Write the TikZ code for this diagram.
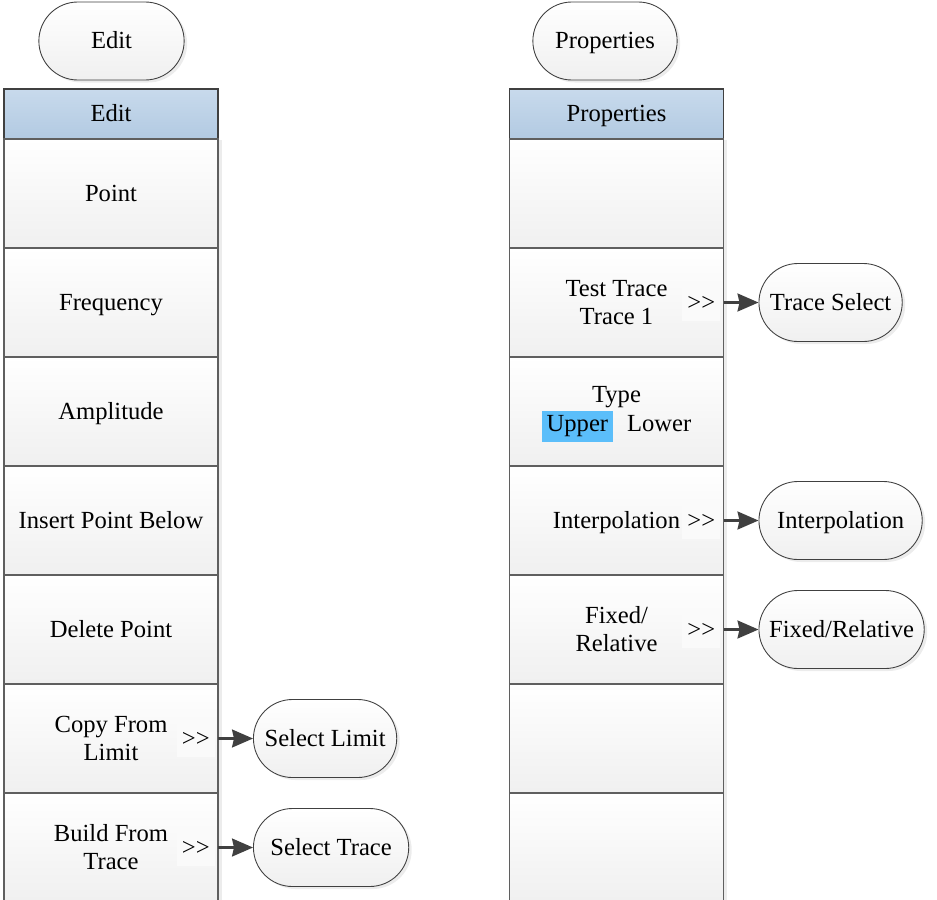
\documentclass[tikz,border=0pt]{standalone}
\usepackage{fontspec}
\setmainfont{Liberation Serif}
\usetikzlibrary{shapes,arrows.meta,positioning,shadows}
\definecolor{headtop}{RGB}{200,218,236}
\definecolor{headbot}{RGB}{178,202,226}
\definecolor{cellline}{RGB}{95,95,95}
\definecolor{darkline}{RGB}{64,64,64}
\definecolor{upperblue}{RGB}{91,190,250}
\setlength{\fboxsep}{2.8pt}
\newcommand{\cellstrut}{\rule[-3.2pt]{0pt}{15.5pt}}

\begin{document}
\begin{tikzpicture}[
    menuhead/.style={draw=darkline, line width=1.1pt, rectangle, outer sep=0pt, minimum width=4.28cm, minimum height=1cm, align=center, top color=headtop, bottom color=headbot, font=\fontsize{14}{16.4}\selectfont, execute at end node=\cellstrut},
    menucell/.style={draw=cellline, line width=0.8pt, rectangle, outer sep=0pt, minimum width=4.28cm, minimum height=2.18cm, align=center, top color=white, bottom color=gray!12, font=\fontsize{14}{16.4}\selectfont, execute at end node=\cellstrut, drop shadow={shadow xshift=0.07cm, shadow yshift=-0.02cm, opacity=0.15, fill=gray}},
    softkey/.style={draw=darkline, line width=0.5pt, rounded rectangle, minimum height=1.56cm, align=center, top color=white, bottom color=gray!12, font=\fontsize{14}{16.4}\selectfont, execute at end node=\cellstrut, drop shadow={shadow xshift=0.06cm, shadow yshift=-0.05cm, opacity=0.15, fill=gray}},
    more/.style={fill=gray!4, inner sep=0.1cm, minimum height=0.64cm, font=\fontsize{14}{16.4}\selectfont, execute at end node=\cellstrut},
    link/.style={draw=darkline, line width=1.2pt, -{Stealth[length=0.42cm, width=0.36cm, inset=0.04cm]}}
]
    \useasboundingbox (0,0) rectangle (18.74,-17.98);

    % Edit menu
    \node[softkey, minimum width=3.14cm] (editkey) at (2.23,-0.82) {Edit};
    \node[menuhead] (edithead) at (2.22,-2.28) {Edit};
    \node[menucell, below=0cm of edithead] (e1) {Point};
    \node[menucell, below=0cm of e1] (e2) {Frequency};
    \node[menucell, below=0cm of e2] (e3) {Amplitude};
    \node[menucell, below=0cm of e3] (e4) {Insert Point Below};
    \node[menucell, below=0cm of e4] (e5) {Delete Point};
    \node[menucell, below=0cm of e5] (e6) {\cellstrut Copy From\\Limit};
    \node[menucell, below=0cm of e6] (e7) {\cellstrut Build From\\Trace};

    % Properties menu
    \node[softkey, minimum width=3.12cm] (propkey) at (12.1,-0.82) {Properties};
    \node[menuhead] (prophead) at (12.33,-2.28) {Properties};
    \node[menucell, below=0cm of prophead] (p1) {};
    \node[menucell, below=0cm of p1] (p2) {\cellstrut Test Trace\\Trace 1};
    \node[menucell, below=0cm of p2] (p3) {\cellstrut Type\\\colorbox{upperblue}{Upper}\hspace{8pt}Lower};
    \node[menucell, below=0cm of p3] (p4) {Interpolation};
    \node[menucell, below=0cm of p4] (p5) {\cellstrut Fixed/\\Relative};
    \node[menucell, below=0cm of p5] (p6) {};
    \node[menucell, below=0cm of p6] (p7) {};

    % submenu marks
    \node[more, anchor=east] (m6) at ([xshift=-0.06cm]e6.east) {>\kern0pt>};
    \node[more, anchor=east] (m7) at ([xshift=-0.06cm]e7.east) {>\kern0pt>};
    \node[more, anchor=east] (mp2) at ([xshift=-0.06cm]p2.east) {>\kern0pt>};
    \node[more, anchor=east] (mp4) at ([xshift=-0.06cm]p4.east) {>\kern0pt>};
    \node[more, anchor=east] (mp5) at ([xshift=-0.06cm]p5.east) {>\kern0pt>};

    % submenus
    \node[softkey, minimum width=3.1cm, right=0.7cm of e6] (sellimit) {Select Limit};
    \node[softkey, minimum width=3.34cm, right=0.7cm of e7] (seltrace) {Select Trace};
    \node[softkey, minimum width=3.1cm, right=0.7cm of p2] (tracesel) {Trace Select};
    \node[softkey, minimum width=3.5cm, right=0.7cm of p4] (interp) {Interpolation};
    \node[softkey, minimum width=3.54cm, right=0.7cm of p5] (fixrel) {Fixed/Relative};

    \draw[link] (e6.east) -- (sellimit.west);
    \draw[link] (e7.east) -- (seltrace.west);
    \draw[link] (p2.east) -- (tracesel.west);
    \draw[link] (p4.east) -- (interp.west);
    \draw[link] (p5.east) -- (fixrel.west);
\end{tikzpicture}
\end{document}
